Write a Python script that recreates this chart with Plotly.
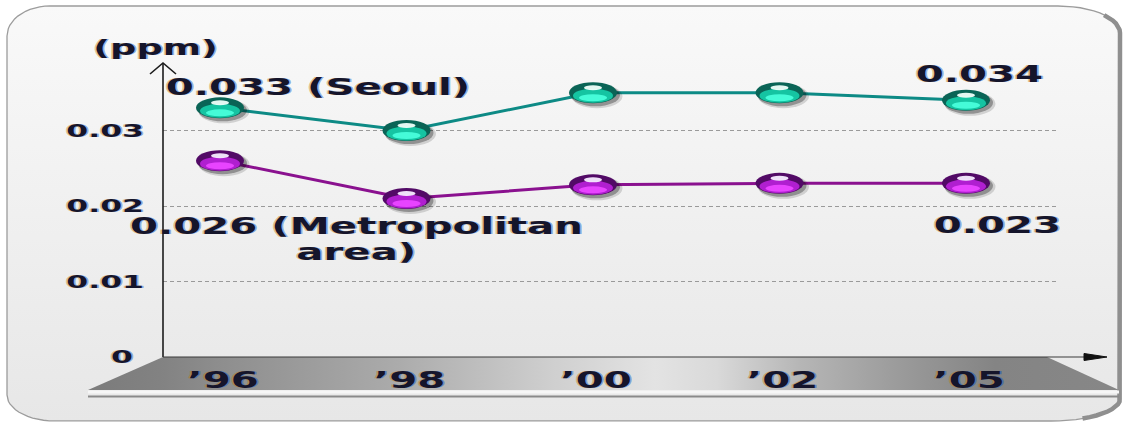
import numpy as np
import plotly.graph_objects as go

# ---- data ----
years = ["’96", "’98", "’00", "’02", "’05"]
seoul = [0.033, 0.030, 0.035, 0.035, 0.034]
metro = [0.026, 0.021, 0.0228, 0.023, 0.023]
y_ticks = [0, 0.01, 0.02, 0.03]
y_tick_text = ["0\u00a0", "0.01", "0.02", "0.03"]
unit_label = "(ppm)"
seoul_name = "Seoul"
metro_name = ["Metropolitan", "area"]

# ---- page geometry (pixels) ----
W, H = 1129, 423
PL, PR, PT, PB = 163, 1057, 60, 357          # data plot box
PX_PER_UNIT_Y = 7550.0
PX_PER_CAT = 186.5
FIRST_CAT_PX = 220

idx = list(range(len(years)))
x_lo = -(FIRST_CAT_PX - PL) / PX_PER_CAT
x_hi = x_lo + (PR - PL) / PX_PER_CAT
y_hi = (PB - PT) / PX_PER_UNIT_Y

FONT = "DejaVu Sans"
INK = "#15152b"
FRINGE = "-1px 0px 0px rgba(205,130,20,0.45), 1px 0px 0px rgba(20,90,210,0.45)"


def rounded_outline(x0, y0, x1, y1, tl, tr, br, bl, n=14):
    """Closed outline of a rectangle with elliptical corners (page pixels, y down)."""
    xs, ys = [], []
    corners = [
        ((x0 + tl[0], y0 + tl[1]), tl, np.pi, 1.5 * np.pi),
        ((x1 - tr[0], y0 + tr[1]), tr, 1.5 * np.pi, 2 * np.pi),
        ((x1 - br[0], y1 - br[1]), br, 0, 0.5 * np.pi),
        ((x0 + bl[0], y1 - bl[1]), bl, 0.5 * np.pi, np.pi),
    ]
    for (cx, cy), (rx, ry), a0, a1 in corners:
        t = np.linspace(a0, a1, n)
        xs += list(cx + rx * np.cos(t))
        ys += list(cy + ry * np.sin(t))
    xs.append(xs[0])
    ys.append(ys[0])
    return xs, ys


fig = go.Figure()

# ---- panel background (page-pixel axes) ----
N_ARC = 14
px_, py_ = rounded_outline(7, 6, 1121, 421, (43, 30), (63, 27), (70, 22), (48, 26), n=N_ARC)
fig.add_trace(go.Scatter(
    x=px_, y=py_, mode="lines", fill="toself",
    line=dict(color="#9c9c9c", width=1.3),
    fillgradient=dict(type="vertical", start=6, stop=421,
                      colorscale=[[0, "#f9f9f9"], [1, "#e7e7e7"]]),
    hoverinfo="skip", showlegend=False, xaxis="x", yaxis="y"))

# darker bevel on the right-hand edge
seg = slice(N_ARC + N_ARC // 2, 3 * N_ARC - N_ARC // 3)
fig.add_trace(go.Scatter(
    x=[v - 1 for v in px_[seg]], y=py_[seg], mode="lines",
    line=dict(color="#8f8f8f", width=4.5),
    hoverinfo="skip", showlegend=False, xaxis="x", yaxis="y"))

# grey category band under the x axis
fig.add_trace(go.Scatter(
    x=[88, PL, 1047, 1119, 88], y=[390, PB, PB, 390, 390],
    mode="lines", fill="toself", line=dict(width=0),
    fillgradient=dict(type="horizontal", start=88, stop=1119, colorscale=[
        [0.00, "#7b7b7b"], [0.07, "#828282"], [0.13, "#8e8e8e"],
        [0.30, "#ababab"], [0.45, "#cfcfcf"], [0.55, "#e3e3e3"],
        [0.61, "#d9d9d9"], [0.69, "#b6b6b6"], [0.79, "#9a9a9a"],
        [0.88, "#848484"], [1.00, "#878787"]]),
    hoverinfo="skip", showlegend=False, xaxis="x", yaxis="y"))

# ---- data lines ----
fig.add_trace(go.Scatter(
    x=idx, y=seoul, mode="lines", line=dict(color="#0d8a85", width=3),
    name=seoul_name, showlegend=False, xaxis="x2", yaxis="y2"))
fig.add_trace(go.Scatter(
    x=idx, y=metro, mode="lines", line=dict(color="#8a118f", width=3),
    name=" ".join(metro_name), showlegend=False, xaxis="x2", yaxis="y2"))

shapes = []

# base strip under the band
shapes.append(dict(type="line", xref="x", yref="y", x0=88, x1=1119, y0=392, y1=392,
                   line=dict(color="#f6f6f6", width=3), layer="above"))
shapes.append(dict(type="line", xref="x", yref="y", x0=88, x1=1119, y0=396.5, y1=396.5,
                   line=dict(color="#8a8a8a", width=2), layer="above"))

# axes with arrowheads
shapes.append(dict(type="line", xref="x", yref="y", x0=PL, x1=PL, y0=PB, y1=63,
                   line=dict(color="#1c1c1c", width=1.6), layer="above"))
shapes.append(dict(type="path", xref="x", yref="y", path="M150,74 L163,63 L176,74",
                   line=dict(color="#1c1c1c", width=1.6), layer="above"))
shapes.append(dict(type="line", xref="x", yref="y", x0=PL, x1=1090, y0=PB, y1=PB,
                   line=dict(color="#3a3a3a", width=1.2), layer="above"))
shapes.append(dict(type="path", xref="x", yref="y", path="M1084,353.5 L1107,357 L1084,360.5 Z",
                   fillcolor="#111111", line=dict(color="#111111", width=1), layer="above"))


def ellipse(xa, ya, cx, cy, w, h, color, opacity=1.0):
    return dict(type="circle", xref="x2", yref="y2", xsizemode="pixel", ysizemode="pixel",
                xanchor=xa, yanchor=ya, x0=cx - w / 2, x1=cx + w / 2,
                y0=cy - h / 2, y1=cy + h / 2, fillcolor=color, opacity=opacity,
                line=dict(width=0), layer="above")


def glossy_marker(xa, ya, base, body, bright, shine):
    return [
        ellipse(xa, ya, 4, -3.5, 51, 24, "#000000", 0.14),
        ellipse(xa, ya, 2.5, -2.5, 49, 22, "#000000", 0.30),
        ellipse(xa, ya, 0, 0, 48, 21, base),
        ellipse(xa, ya, 0, -3, 40, 14, body),
        ellipse(xa, ya, 0, -5, 28, 7, bright),
        ellipse(xa, ya, 0, 5, 18, 5, shine, 0.95),
    ]


for i, v in zip(idx, seoul):
    shapes += glossy_marker(i, v, "#0a6456", "#15c4a2", "#45fbd8", "#effffa")
for i, v in zip(idx, metro):
    shapes += glossy_marker(i, v, "#520a66", "#b01fd0", "#e844ff", "#f6ecff")

label_font = dict(family=FONT, size=23, color=INK, weight="bold", shadow=FRINGE)

annotations = [
    dict(text=unit_label, xref="x", yref="y", x=155, y=48, showarrow=False,
         font=dict(family=FONT, size=21, color=INK, weight="bold", shadow=FRINGE)),
    dict(text=f"{seoul[0]:.3f} ({seoul_name})", xref="x2", yref="y2", x=idx[0], y=seoul[0],
         xshift=98, yshift=21, showarrow=False, font=label_font),
    dict(text=f"{seoul[-1]:.3f}", xref="x2", yref="y2", x=idx[-1], y=seoul[-1],
         xshift=13, yshift=26, showarrow=False, font=label_font),
    dict(text=f"{metro[0]:.3f} ({metro_name[0]}", xref="x2", yref="y2", x=idx[0], y=metro[0],
         xshift=136, yshift=-65, showarrow=False, font=label_font),
    dict(text=f"{metro_name[1]})", xref="x2", yref="y2", x=idx[0], y=metro[0],
         xshift=136, yshift=-91, showarrow=False, font=label_font),
    dict(text=f"{metro[-1]:.3f}", xref="x2", yref="y2", x=idx[-1], y=metro[-1],
         xshift=31, yshift=-42, showarrow=False, font=label_font),
]

fig.update_layout(
    template="none",
    width=W, height=H,
    margin=dict(l=0, r=0, t=0, b=0, pad=0),
    paper_bgcolor="#ffffff", plot_bgcolor="rgba(0,0,0,0)",
    showlegend=False,
    font=dict(family=FONT, color=INK),
    xaxis=dict(domain=[0, 1], range=[0, W], visible=False, fixedrange=True, automargin=False),
    yaxis=dict(domain=[0, 1], range=[H, 0], visible=False, fixedrange=True, automargin=False),
    xaxis2=dict(domain=[PL / W, PR / W], anchor="y2", range=[x_lo, x_hi],
                tickvals=idx, ticktext=years, showgrid=False, zeroline=False,
                showline=False, ticks="", ticklabelstandoff=7, ticklabelshift=3,
                automargin=False, fixedrange=True,
                tickfont=dict(family=FONT, size=23, color=INK, weight="bold", shadow=FRINGE)),
    yaxis2=dict(domain=[1 - PB / H, 1 - PT / H], anchor="x2", range=[0, y_hi],
                tickvals=y_ticks, ticktext=y_tick_text, showgrid=True,
                gridcolor="#9a9a9a", gridwidth=1, griddash="4px,3px",
                zeroline=False, showline=False, ticks="", ticklabelstandoff=18,
                automargin=False, fixedrange=True,
                tickfont=dict(family=FONT, size=18, color=INK, weight="bold", shadow=FRINGE)),
    shapes=shapes,
    annotations=annotations,
)

# page without body margin; bold lettering widened horizontally
page_js = """
(function(){
  document.documentElement.style.margin = '0';
  document.body.style.margin = '0';
  document.documentElement.style.overflow = 'hidden';
  var gd = document.getElementById('{plot_id}');
  var K = 1.75;
  function stretch(){
    var sel = '.annotation-text, .xtick text, .ytick text, .x2tick text, .y2tick text';
    gd.querySelectorAll(sel).forEach(function(t){
      if (t.getAttribute('data-wide')) return;
      var w = t.getComputedTextLength();
      if (w > 0) {
        t.setAttribute('textLength', (w * K).toFixed(1));
        t.setAttribute('lengthAdjust', 'spacingAndGlyphs');
        t.setAttribute('data-wide', '1');
      }
    });
  }
  stretch();
  if (gd.on) gd.on('plotly_afterplot', stretch);
})();
"""

fig.write_html("out.html", config={"displayModeBar": False}, post_script=page_js)
